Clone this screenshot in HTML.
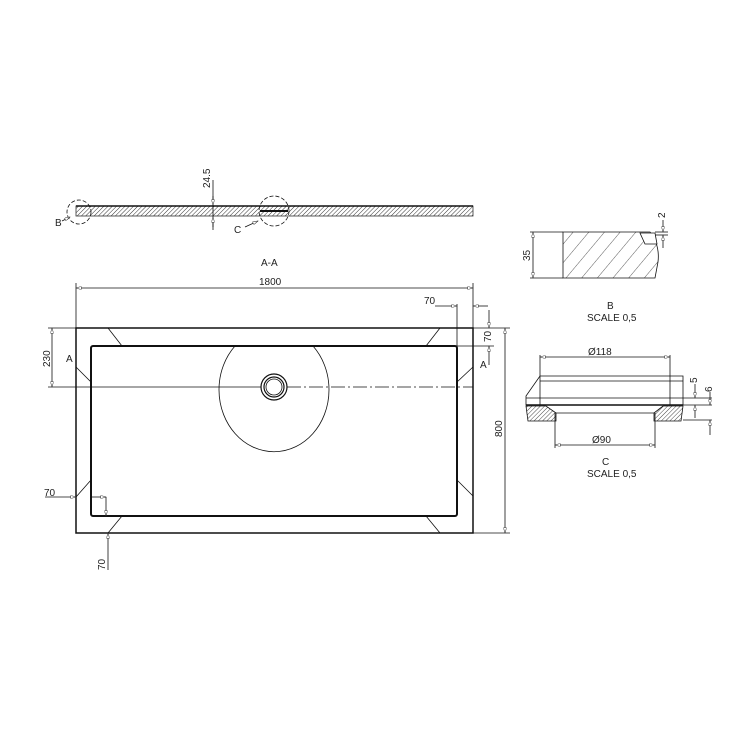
<!DOCTYPE html>
<html><head><meta charset="utf-8"><style>
html,body{margin:0;padding:0;background:#fff}
svg{display:block}
text{font-family:"Liberation Sans",sans-serif;font-size:10px;fill:#222}
</style></head><body>
<svg width="750" height="750" viewBox="0 0 750 750" xmlns="http://www.w3.org/2000/svg">
<defs>
<pattern id="h" width="3" height="3" patternUnits="userSpaceOnUse" patternTransform="rotate(45)">
<line x1="0" y1="0" x2="0" y2="3" stroke="#333" stroke-width="1"/></pattern>
<pattern id="hb" width="12" height="12" patternUnits="userSpaceOnUse" patternTransform="rotate(40)">
<line x1="0" y1="0" x2="0" y2="12" stroke="#333" stroke-width="0.8"/></pattern>
<pattern id="hc" width="3" height="3" patternUnits="userSpaceOnUse" patternTransform="rotate(45)">
<line x1="0" y1="0" x2="0" y2="3" stroke="#333" stroke-width="0.9"/></pattern>
<marker id="a" viewBox="0 0 10 6" refX="10" refY="3" markerWidth="8" markerHeight="4" orient="auto-start-reverse"><path d="M0,0 L10,3 L0,6 z" fill="#fff" stroke="#333" stroke-width="1"/></marker>
</defs>
<g stroke="#111" fill="none" stroke-width="0.8">
<!-- section A-A -->
<rect x="76" y="206" width="397" height="10" fill="url(#h)" stroke="#333"/>
<line x1="76" y1="206" x2="473" y2="206" stroke-width="1.5"/>
<line x1="260" y1="211" x2="288" y2="211" stroke-width="2"/>
<circle cx="79" cy="212" r="12" stroke-dasharray="4,2"/>
<circle cx="274" cy="211" r="15" stroke-dasharray="4,2"/>
<line x1="213" y1="180" x2="213" y2="230"/>
<line x1="213" y1="196" x2="213" y2="205" marker-end="url(#a)"/>
<line x1="213" y1="227" x2="213" y2="217" marker-end="url(#a)"/>
<line x1="62" y1="221" x2="70" y2="217" marker-end="url(#a)"/>
<line x1="245" y1="227" x2="258" y2="221" marker-end="url(#a)"/>
<!-- plan -->
<rect x="76" y="328" width="397" height="205" stroke-width="1.5"/>
<rect x="91" y="346" width="366" height="170" rx="2" stroke-width="2"/>
<path d="M235,346 A55,62 0 1 0 313,346"/>
<circle cx="274" cy="387" r="13" stroke-width="1.2"/>
<circle cx="274" cy="387" r="10" stroke-width="1.2"/>
<circle cx="274" cy="387" r="8" stroke-width="0.8"/>
<line x1="48" y1="387" x2="261" y2="387"/>
<line x1="287" y1="387" x2="473" y2="387" stroke-dasharray="14,3,2,3"/>
<path d="M108,328 L122,346 M76,367 L91,382 M91,480 L76,497 M122,516 L108,533 M440,328 L426,346 M473,367 L457,382 M457,480 L473,496 M426,516 L440,533"/>
<!-- dims -->
<line x1="76" y1="283" x2="76" y2="328"/><line x1="473" y1="283" x2="473" y2="328"/>
<line x1="76" y1="288" x2="473" y2="288" marker-start="url(#a)" marker-end="url(#a)"/>
<line x1="457" y1="304" x2="457" y2="346"/>
<line x1="435" y1="306" x2="457" y2="306" marker-end="url(#a)"/>
<line x1="488" y1="306" x2="473" y2="306" marker-end="url(#a)"/>
<line x1="473" y1="328" x2="510" y2="328"/><line x1="457" y1="346" x2="494" y2="346"/>
<line x1="489" y1="310" x2="489" y2="328" marker-end="url(#a)"/>
<line x1="489" y1="365" x2="489" y2="346" marker-end="url(#a)"/>
<line x1="473" y1="533" x2="510" y2="533"/>
<line x1="505" y1="328" x2="505" y2="533" marker-start="url(#a)" marker-end="url(#a)"/>
<line x1="48" y1="328" x2="76" y2="328"/>
<line x1="52" y1="328" x2="52" y2="387" marker-start="url(#a)" marker-end="url(#a)"/>
<line x1="76" y1="370" x2="76" y2="380"/>
<line x1="45" y1="497" x2="76" y2="497" marker-end="url(#a)"/>
<line x1="91" y1="497" x2="106" y2="497" marker-end="url(#a)"/><line x1="106" y1="497" x2="106" y2="516" marker-end="url(#a)"/>
<line x1="108" y1="570" x2="108" y2="533" marker-end="url(#a)"/>
<!-- detail B -->
<path d="M563,232 L650,232 Q660,245 658,262 L655,278 L563,278 Z" fill="url(#hb)"/>
<path d="M640,233 L655,233 L657,244 L645,244 Z" fill="#fff"/>
<line x1="530" y1="232" x2="563" y2="232"/><line x1="530" y1="278" x2="563" y2="278"/>
<line x1="533" y1="232" x2="533" y2="278" marker-start="url(#a)" marker-end="url(#a)"/>
<line x1="655" y1="232" x2="668" y2="232"/><line x1="655" y1="235" x2="668" y2="235"/>
<line x1="663" y1="220" x2="663" y2="232" marker-end="url(#a)"/>
<line x1="663" y1="248" x2="663" y2="235" marker-end="url(#a)"/>
<!-- detail C -->
<path d="M540,376 L683,376 L683,405 L526,405 L526,396 Z"/>
<line x1="540" y1="381" x2="683" y2="381"/>
<line x1="526" y1="398" x2="683" y2="398"/>
<line x1="526" y1="405" x2="683" y2="405" stroke-width="1.6"/>
<path d="M526,406 L546,406 L556,413 L556,421 L528,421 Z" fill="url(#hc)"/>
<path d="M683,406 L663,406 L654,413 L654,421 L681,421 Z" fill="url(#hc)"/>
<line x1="556" y1="413" x2="654" y2="413"/>
<line x1="540" y1="355" x2="540" y2="405"/><line x1="670" y1="355" x2="670" y2="405"/>
<line x1="540" y1="357" x2="670" y2="357" marker-start="url(#a)" marker-end="url(#a)"/>
<line x1="555" y1="413" x2="555" y2="448"/><line x1="655" y1="413" x2="655" y2="448"/>
<line x1="555" y1="445" x2="655" y2="445" marker-start="url(#a)" marker-end="url(#a)"/>
<line x1="683" y1="398" x2="712" y2="398"/><line x1="683" y1="405" x2="712" y2="405"/><line x1="683" y1="420" x2="712" y2="420"/>
<line x1="695" y1="384" x2="695" y2="398" marker-end="url(#a)"/>
<line x1="695" y1="418" x2="695" y2="405" marker-end="url(#a)"/>
<line x1="710" y1="392" x2="710" y2="405" marker-end="url(#a)"/>
<line x1="710" y1="435" x2="710" y2="420" marker-end="url(#a)"/>
</g>
<text x="210" y="188" transform="rotate(-90 210 188)">24.5</text>
<text x="55" y="226">B</text>
<text x="234" y="233">C</text>
<text x="261" y="266">A-A</text>
<text x="259" y="285">1800</text>
<text x="424" y="304">70</text>
<text x="491" y="342" transform="rotate(-90 491 342)">70</text>
<text x="66" y="362">A</text>
<text x="480" y="368">A</text>
<text x="50" y="367" transform="rotate(-90 50 367)">230</text>
<text x="502" y="437" transform="rotate(-90 502 437)">800</text>
<text x="44" y="496">70</text>
<text x="105" y="570" transform="rotate(-90 105 570)">70</text>
<text x="530" y="261" transform="rotate(-90 530 261)">35</text>
<text x="665" y="218" transform="rotate(-90 665 218)">2</text>
<text x="607" y="309">B</text>
<text x="587" y="321">SCALE 0,5</text>
<text x="588" y="355">Ø118</text>
<text x="592" y="443">Ø90</text>
<text x="697" y="383" transform="rotate(-90 697 383)">5</text>
<text x="712" y="392" transform="rotate(-90 712 392)">6</text>
<text x="602" y="465">C</text>
<text x="587" y="477">SCALE 0,5</text>
</svg>
</body></html>
